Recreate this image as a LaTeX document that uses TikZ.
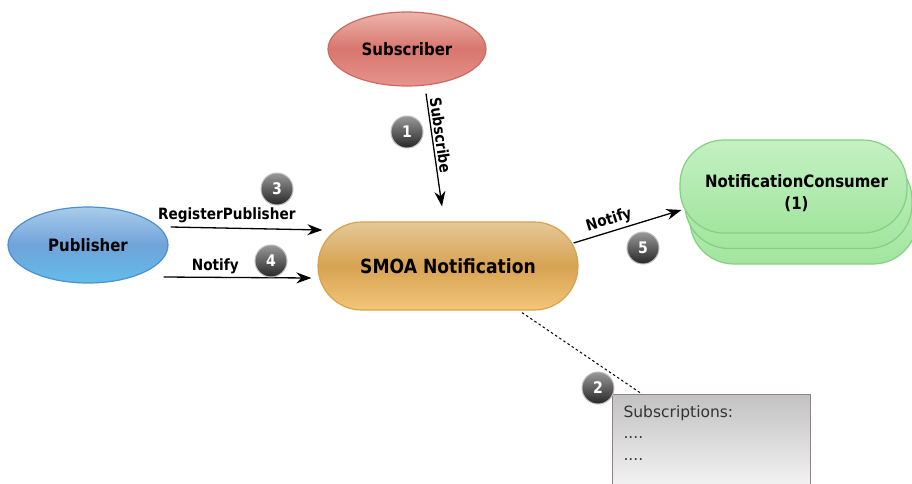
\documentclass[tikz,border=0pt]{standalone}
\usepackage{fontspec}
\setmainfont{DejaVu Sans}
\newfontfamily\condfont[FakeStretch=0.88]{DejaVu Sans}
\usetikzlibrary{shapes.geometric,arrows.meta}
\definecolor{subtop}{HTML}{EDB4AC}
\definecolor{submid}{HTML}{D8766E}
\definecolor{subbot}{HTML}{E6948C}
\definecolor{subline}{HTML}{CC6A62}
\definecolor{pubtop}{HTML}{A8CCEB}
\definecolor{pubmid}{HTML}{70A3D9}
\definecolor{pubbot}{HTML}{62BDEA}
\definecolor{publine}{HTML}{4F8FD0}
\definecolor{smoatop}{HTML}{E6C899}
\definecolor{smoamid}{HTML}{D6A352}
\definecolor{smoabot}{HTML}{F3C67A}
\definecolor{smoaline}{HTML}{D9A24A}
\definecolor{nctop}{HTML}{C4F1C1}
\definecolor{ncbot}{HTML}{A2E59F}
\definecolor{ncline}{HTML}{84D082}
\definecolor{boxline}{HTML}{8C8484}
\begin{document}
\begin{tikzpicture}[x=1pt,y=-1pt,
    actor/.style={ellipse,draw,line width=1.2,inner sep=0,font=\fontsize{17}{20}\condfont\bfseries},
    consumer/.style={rectangle,rounded corners=44,draw=ncline,line width=1.2,top color=nctop,bottom color=ncbot,minimum width=227,minimum height=93},
    msg/.style={-{Stealth[length=15,width=11]},line width=1.3},
    lbl/.style={font=\fontsize{15.5}{18}\condfont\bfseries,inner sep=2},
    badge/.style={circle,minimum size=32,inner sep=0,top color=black!40,bottom color=black!85,draw=black!25,line width=1,text=white,font=\fontsize{16}{16}\condfont\bfseries}]

  \useasboundingbox (0,0) rectangle (912,483);

  \node[actor,minimum width=158,minimum height=74,draw=subline,top color=subtop,bottom color=subbot,middle color=submid] (sub) at (407,49) {Subscriber};
  \node[actor,minimum width=160,minimum height=76,draw=publine,top color=pubtop,bottom color=pubbot,middle color=pubmid] (pub) at (88,245) {Publisher};
  \node[rectangle,rounded corners=44,draw=smoaline,line width=1.2,top color=smoatop,bottom color=smoabot,middle color=smoamid,
        minimum width=260,minimum height=88,font=\fontsize{19.5}{22}\condfont\bfseries] (smoa) at (448,266) {SMOA Notification};

  % stacked consumers
  \foreach \i in {2,1}
    \node[consumer] (nc-\i) at ({793.5+5*\i},{186.5+15.5*\i}) {};
  \node[consumer] (nc) at (793.5,186.5) {};
  \node[align=center,font=\fontsize{17}{22}\condfont\bfseries] (nc-text) at ([xshift=3,yshift=-7]nc.center) {NotificationConsumer\\(1)};

  % subscriptions note
  \node[rectangle,draw=boxline,line width=1,top color=black!24,bottom color=black!3,minimum width=198,minimum height=100,inner sep=0,anchor=north west] (subs) at (612,394) {};
  \node[anchor=north west,align=left,text=black!80,font=\fontsize{15.5}{21.5}\selectfont] (subs-text) at ([xshift=8,yshift=-8]subs.north west) {Subscriptions:\\....\\....};

  \draw[msg] ([xshift=19,yshift=-7]sub.south) -- node[lbl,sloped,above,pos=0.38] (subscribe) {Subscribe} ([xshift=-6,yshift=15]smoa.north);
  \draw[msg] ([xshift=2,yshift=18]pub.east) -- node[lbl,above=3,pos=0.37] (register) {RegisterPublisher} ([xshift=5,yshift=36]smoa.west);
  \draw[msg] ([xshift=-5,yshift=-32]pub.east) -- node[lbl,above=1,pos=0.35] (notify-in) {Notify} ([xshift=-6,yshift=-12]smoa.west);
  \draw[msg] ([xshift=-5,yshift=23]smoa.east) -- node[lbl,sloped,above=1,pos=0.36] (notify-out) {Notify} ([xshift=2,yshift=-23.5]nc.west);
  \draw[line width=1,dash pattern=on 2.5 off 2.5] ([xshift=74,yshift=-2]smoa.south) -- ([xshift=30]subs.north west);

  \node[badge] (b1) at (407,132) {1};
  \node[badge] (b2) at (598,388) {2};
  \node[badge] (b3) at (277,189) {3};
  \node[badge] (b4) at (271,261) {4};
  \node[badge] (b5) at (643,248) {5};
\end{tikzpicture}
\end{document}
